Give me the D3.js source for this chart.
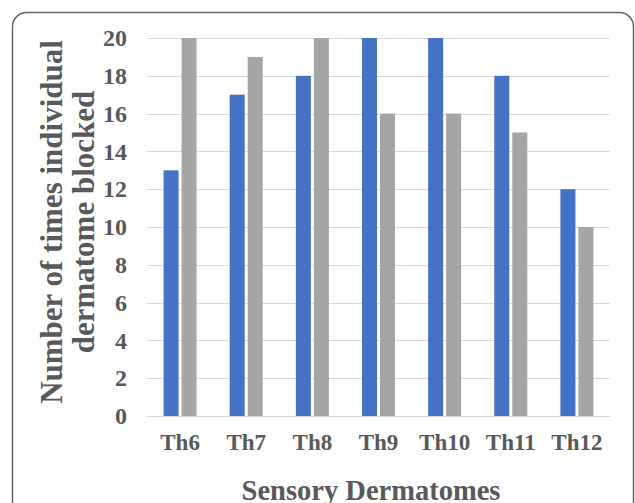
<!DOCTYPE html>
<html>
<head>
<meta charset="utf-8">
<script src="https://cdn.jsdelivr.net/npm/d3@7"></script>
<style>
  body { margin: 0; background: #fff; }
  text { font-family: "Liberation Serif", "Times New Roman", serif; font-weight: bold; fill: #595959; }
</style>
</head>
<body>
<svg id="chart" width="635" height="503"></svg>
<script>
// chart data
var categories = ["Th6", "Th7", "Th8", "Th9", "Th10", "Th11", "Th12"];
var seriesBlue = [13, 17, 18, 20, 20, 18, 12];
var seriesGray = [20, 19, 20, 16, 16, 15, 10];
var yTicks = [0, 2, 4, 6, 8, 10, 12, 14, 16, 18, 20];

var svg = d3.select("#chart");

// outer frame, bottom runs off the page
svg.append("rect")
  .attr("x", 12.5).attr("y", 12.5)
  .attr("width", 621).attr("height", 520)
  .attr("rx", 14).attr("ry", 14)
  .attr("fill", "none")
  .attr("stroke", "#666").attr("stroke-width", 1.5);

var plotLeft = 147, plotRight = 610, plotTop = 38, plotBottom = 416;

var x = d3.scaleBand().domain(categories).range([plotLeft, plotRight]);
var y = d3.scaleLinear().domain([0, 20]).range([plotBottom, plotTop]);

// gridlines
svg.append("g").selectAll("line")
  .data(yTicks).enter().append("line")
  .attr("x1", plotLeft).attr("x2", plotRight)
  .attr("y1", function(d) { return Math.round(y(d)) + 0.5; })
  .attr("y2", function(d) { return Math.round(y(d)) + 0.5; })
  .attr("stroke", "#d9d9d9").attr("stroke-width", 1);

var barW = 15, gap = 3;

svg.append("g").selectAll("rect")
  .data(seriesBlue).enter().append("rect")
  .attr("x", function(d, i) { return x(categories[i]) + x.bandwidth() / 2 - gap / 2 - barW; })
  .attr("y", function(d) { return y(d); })
  .attr("width", barW)
  .attr("height", function(d) { return plotBottom - y(d); })
  .attr("fill", "#4472C4");

svg.append("g").selectAll("rect")
  .data(seriesGray).enter().append("rect")
  .attr("x", function(d, i) { return x(categories[i]) + x.bandwidth() / 2 + gap / 2; })
  .attr("y", function(d) { return y(d); })
  .attr("width", barW)
  .attr("height", function(d) { return plotBottom - y(d); })
  .attr("fill", "#A5A5A5");

// y axis labels
var yAxis = d3.axisLeft(y).tickValues(yTicks).tickSize(0).tickPadding(20);
var gy = svg.append("g").attr("transform", "translate(" + plotLeft + ",0)").call(yAxis);
gy.select(".domain").remove();
gy.selectAll("text").attr("font-size", 24);

// x axis labels
var xAxis = d3.axisBottom(x).tickSize(0).tickPadding(18);
var gx = svg.append("g").attr("transform", "translate(0," + plotBottom + ")").call(xAxis);
gx.select(".domain").attr("stroke", "#d9d9d9");
gx.selectAll("text").attr("font-size", 23);

// axis titles
svg.append("text")
  .attr("x", 371).attr("y", 500)
  .attr("text-anchor", "middle")
  .attr("font-size", 28.5)
  .text("Sensory Dermatomes");

var yt = svg.append("text")
  .attr("transform", "translate(62,222) rotate(-90)")
  .attr("text-anchor", "middle")
  .attr("font-size", 31);
yt.append("tspan").attr("x", 0).attr("dy", 0).text("Number of times individual");
yt.append("tspan").attr("x", 0).attr("dy", 32).text("dermatome blocked");
</script>
</body>
</html>
